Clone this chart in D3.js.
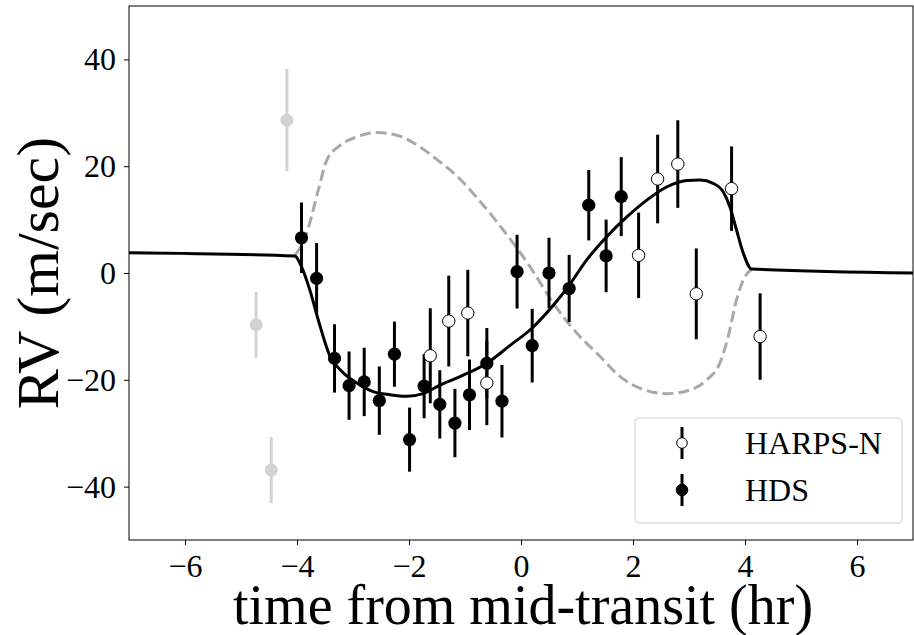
<!DOCTYPE html>
<html>
<head>
<meta charset="utf-8">
<script src="https://cdn.jsdelivr.net/npm/d3@7"></script>
<style>
  html, body { margin: 0; padding: 0; background: #fff; }
  svg { display: block; }
  svg text { font-family: "Liberation Serif", "Times New Roman", serif !important; }
</style>
</head>
<body>
<svg id="chart" width="914" height="635"></svg>
<script>
// ---- data ----
const xTicks = [-6, -4, -2, 0, 2, 4, 6];
const yTicks = [-40, -20, 0, 20, 40];

// HDS (filled)
const hdsTime = [-3.92, -3.65, -3.33, -3.07, -2.80, -2.53, -2.26, -1.99, -1.73, -1.45, -1.18, -0.92, -0.61, -0.34, -0.07, 0.20, 0.50, 0.86, 1.21, 1.52, 1.79];
const hdsRV   = [6.6, -1.0, -16.0, -21.1, -20.4, -23.9, -15.2, -31.2, -21.2, -24.6, -28.1, -22.8, -16.9, -24.0, 0.25, -13.6, 0.0, -2.9, 12.7, 3.2, 14.3];
const hdsErr  = [6.6, 6.6, 6.4, 6.4, 6.4, 6.4, 6.1, 6.0, 6.0, 6.4, 6.4, 6.6, 6.6, 6.8, 6.9, 6.9, 6.6, 6.3, 6.6, 6.8, 7.4];

// HARPS-N (open)
const harpsTime = [-1.62, -1.29, -0.95, -0.61, 2.10, 2.44, 2.80, 3.13, 3.76, 4.27];
const harpsRV   = [-15.5, -9.0, -7.5, -20.6, 3.3, 17.6, 20.4, -3.9, 15.8, -11.9];
const harpsErr  = [8.9, 8.5, 8.1, 7.9, 8.0, 8.3, 8.2, 8.5, 7.9, 8.1];

// excluded points (light gray)
const exclTime = [-4.73, -4.46, -4.18];
const exclRV   = [-9.7, -36.9, 28.6];
const exclErr  = [6.2, 6.2, 9.6];

// best-fit model (solid)
const modelTime = [-7.0, -4.04, -3.92, -3.77, -3.62, -3.41, -3.23, -2.93, -2.64, -2.34, -2.04, -1.75, -1.45, -1.09, -0.61, -0.20, 0.20, 0.58, 0.86, 1.17, 1.53, 1.89, 2.24, 2.60, 2.96, 3.20, 3.43, 3.61, 3.73, 3.85, 3.97, 4.12, 7.0];
const modelRV   = [3.8, 3.2, 1.2, -3.2, -8.8, -15.6, -18.1, -20.6, -22.2, -22.8, -23.1, -22.6, -21.0, -19.4, -16.9, -13.6, -10.3, -6.0, -2.3, 2.4, 6.8, 10.5, 13.6, 16.1, 17.3, 17.4, 16.8, 15.2, 12.4, 8.0, 3.7, 0.75, 0.0];

// alternative model (dashed)
const altTime = [-4.04, -3.83, -3.62, -3.47, -3.23, -2.93, -2.58, -2.22, -1.80, -1.57, -1.09, -0.73, -0.38, 0.16, 0.58, 1.00, 1.41, 1.77, 2.13, 2.60, 3.02, 3.32, 3.55, 3.70, 3.85, 3.97, 4.12];
const altRV   = [3.2, 7.4, 15.5, 21.1, 23.9, 25.5, 26.3, 25.8, 23.6, 21.8, 17.6, 13.4, 8.9, 1.2, -5.7, -11.3, -15.6, -19.4, -21.6, -22.6, -21.9, -20.0, -16.9, -11.9, -5.0, -1.3, 0.75];

const seriesNames = ["HARPS-N", "HDS"];

// ---- chart ----
const svg = d3.select("#chart");
const margin = {left: 129, right: 1, top: 6, bottom: 95};
const W = 914, H = 635;
const x = d3.scaleLinear().domain([-7, 7]).range([margin.left, W - margin.right]);
const y = d3.scaleLinear().domain([-50, 50]).range([H - margin.bottom, margin.top]);
const SERIF = "'Liberation Serif', 'Times New Roman', serif";

const plot = svg.append("g");

function errorbars(g, ts, vs, es, color) {
  g.selectAll(null).data(ts.map((t, i) => ({t, v: vs[i], e: es[i]}))).enter()
    .append("line")
    .attr("x1", d => x(d.t)).attr("x2", d => x(d.t))
    .attr("y1", d => y(d.v - d.e)).attr("y2", d => y(d.v + d.e))
    .attr("stroke", color).attr("stroke-width", 3);
}

// excluded points
errorbars(plot, exclTime, exclRV, exclErr, "#d3d3d3");
plot.selectAll(null).data(exclTime.map((t, i) => ({t, v: exclRV[i]}))).enter()
  .append("circle").attr("cx", d => x(d.t)).attr("cy", d => y(d.v)).attr("r", 6.5)
  .attr("fill", "#d3d3d3");

const line = d3.line().x(d => x(d[0])).y(d => y(d[1])).curve(d3.curveMonotoneX);

plot.append("path")
  .datum(altTime.map((t, i) => [t, altRV[i]]))
  .attr("d", line).attr("fill", "none")
  .attr("stroke", "#a9a9a9").attr("stroke-width", 3)
  .attr("stroke-dasharray", "11,5");

plot.append("path")
  .datum(modelTime.map((t, i) => [t, modelRV[i]]))
  .attr("d", line).attr("fill", "none")
  .attr("stroke", "#000").attr("stroke-width", 3);

// HDS
errorbars(plot, hdsTime, hdsRV, hdsErr, "#000");
plot.selectAll(null).data(hdsTime.map((t, i) => ({t, v: hdsRV[i]}))).enter()
  .append("circle").attr("cx", d => x(d.t)).attr("cy", d => y(d.v)).attr("r", 6.6)
  .attr("fill", "#000");

// HARPS-N
errorbars(plot, harpsTime, harpsRV, harpsErr, "#000");
plot.selectAll(null).data(harpsTime.map((t, i) => ({t, v: harpsRV[i]}))).enter()
  .append("circle").attr("cx", d => x(d.t)).attr("cy", d => y(d.v)).attr("r", 6.2)
  .attr("fill", "#fff").attr("stroke", "#000").attr("stroke-width", 1);

// axes
const xAxis = svg.append("g").attr("transform", `translate(0,${H - margin.bottom})`)
  .call(d3.axisBottom(x).tickValues(xTicks).tickSize(5).tickSizeOuter(0).tickPadding(7));
const yAxis = svg.append("g").attr("transform", `translate(${margin.left},0)`)
  .call(d3.axisLeft(y).tickValues(yTicks).tickSize(5).tickSizeOuter(0).tickPadding(8));
[xAxis, yAxis].forEach(a => {
  a.attr("font-family", null).attr("font-size", null);
  a.select(".domain").remove();
  a.selectAll("text").style("font-size", "32px").style("font-family", SERIF).attr("fill", "#000");
  a.selectAll("line").attr("stroke", "#000").attr("stroke-width", 1);
});
yAxis.selectAll("text").attr("dy", "0.33em");
xAxis.selectAll("text").attr("dy", "0.78em");

// frame
svg.append("rect")
  .attr("x", x(-7)).attr("y", y(50))
  .attr("width", x(7) - x(-7)).attr("height", y(-50) - y(50))
  .attr("fill", "none").attr("stroke", "#000").attr("stroke-width", 1);

// axis titles
svg.append("text").attr("x", (x(-7) + x(7)) / 2 + 2).attr("y", 624)
  .attr("text-anchor", "middle").style("font-size", "56px").style("font-family", SERIF).attr("fill", "#000")
  .text("time from mid-transit (hr)");
svg.append("text").attr("transform", `translate(58,${(y(50) + y(-50)) / 2}) rotate(-90)`)
  .attr("text-anchor", "middle").style("font-size", "60px").style("font-family", SERIF).attr("fill", "#000")
  .text("RV (m/sec)");

// legend
const lg = svg.append("g");
lg.append("rect").attr("x", 635).attr("y", 418).attr("width", 267).attr("height", 105)
  .attr("rx", 4).attr("fill", "#fff").attr("fill-opacity", 0.8)
  .attr("stroke", "#cccccc").attr("stroke-width", 1);
const legY = [443, 490];
seriesNames.forEach((name, i) => {
  const cy = legY[i];
  lg.append("line").attr("x1", 682).attr("x2", 682).attr("y1", cy - 16).attr("y2", cy + 16)
    .attr("stroke", "#000").attr("stroke-width", 3);
  lg.append("circle").attr("cx", 682).attr("cy", cy).attr("r", i === 0 ? 5.3 : 5.8)
    .attr("fill", i === 0 ? "#fff" : "#000").attr("stroke", "#000").attr("stroke-width", 1);
  lg.append("text").attr("x", 745).attr("y", cy + 11).style("font-size", "32px").style("font-family", SERIF).attr("fill", "#000")
    .text(name);
});
</script>
</body>
</html>
